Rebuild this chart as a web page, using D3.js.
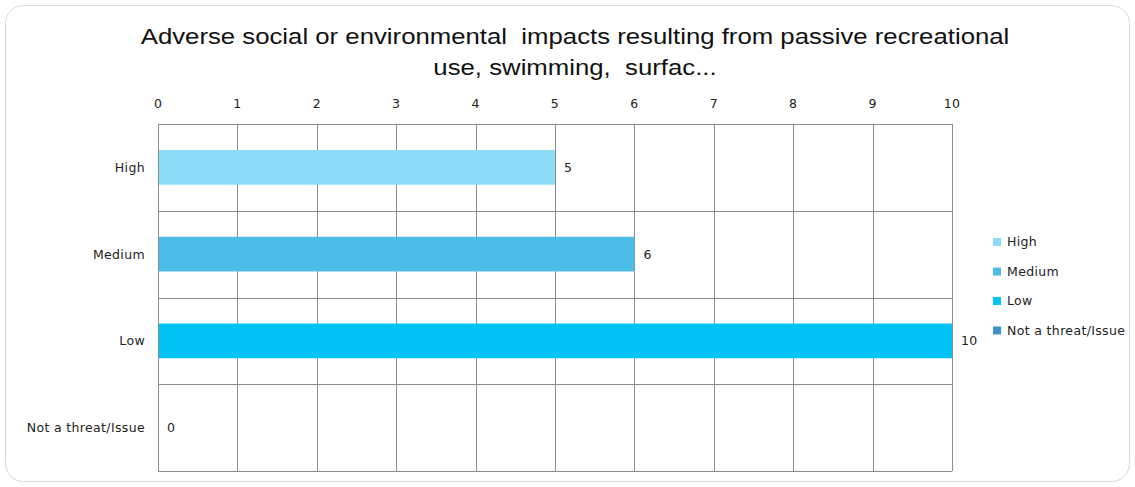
<!DOCTYPE html>
<html>
<head>
<meta charset="utf-8">
<script src="https://cdn.jsdelivr.net/npm/d3@7"></script>
<style>
    body { margin: 0; background: #fff; }
    .tick-label, .cat-label, .value-label, .legend-label { font-family: "DejaVu Sans", sans-serif; font-size: 12.5px; letter-spacing: 0.35px; fill: #222; }
    .chart-title { font-family: "Liberation Sans", Arial, sans-serif; font-size: 23px; fill: #111; }
</style>
</head>
<body>
<div id="chart"></div>
<script>
// chart data
var categories = ["High", "Medium", "Low", "Not a threat/Issue"];
var counts = [5, 6, 10, 0];
var barColors = ["#8ddcf7", "#4cbde9", "#00c3f5", "#3f8fcc"];
var xTicks = [0, 1, 2, 3, 4, 5, 6, 7, 8, 9, 10];
var titleLines = [
    "Adverse social or environmental  impacts resulting from passive recreational",
    "use, swimming,  surfac..."
];

var width = 1135, height = 487;
var margin = { top: 124, right: 183, bottom: 16, left: 158 };
var plotW = width - margin.left - margin.right,
    plotH = height - margin.top - margin.bottom;

var svg = d3.select("#chart").append("svg")
    .attr("width", width)
    .attr("height", height);

// rounded frame
svg.append("rect")
    .attr("x", 5.5).attr("y", 5.5)
    .attr("width", width - 11).attr("height", height - 11)
    .attr("rx", 18)
    .attr("fill", "none")
    .attr("stroke", "#d9d9d9");

// title (source image is a bit stretched horizontally)
var titleG = svg.append("g")
    .attr("transform", "translate(575,0) scale(1.12,1)");

titleG.selectAll(".chart-title")
    .data(titleLines)
    .enter()
    .append("text")
    .attr("class", "chart-title")
    .attr("x", 0)
    .attr("y", function(d, i) { return 44 + i * 31; })
    .attr("text-anchor", "middle")
    .attr("xml:space", "preserve")
    .style("white-space", "pre")
    .text(function(d) { return d; });

var g = svg.append("g")
    .attr("transform", "translate(" + margin.left + "," + margin.top + ")");

var x = d3.scaleLinear().domain([0, 10]).range([0, plotW]);
var y = d3.scaleBand().domain(categories).range([0, plotH]).paddingInner(0.6).paddingOuter(0.3);
var yGrid = d3.scaleBand().domain(categories).range([0, plotH]);

// vertical grid lines
g.selectAll(".vgrid")
    .data(xTicks)
    .enter()
    .append("line")
    .attr("x1", function(d) { return Math.round(x(d)) + 0.5; })
    .attr("x2", function(d) { return Math.round(x(d)) + 0.5; })
    .attr("y1", 0)
    .attr("y2", plotH)
    .attr("stroke", "#8c8c8c");

// horizontal band lines
var hLines = categories.map(function(c) { return yGrid(c); }).concat([plotH]);
g.selectAll(".hgrid")
    .data(hLines)
    .enter()
    .append("line")
    .attr("x1", 0)
    .attr("x2", plotW)
    .attr("y1", function(d) { return Math.round(d) + 0.5; })
    .attr("y2", function(d) { return Math.round(d) + 0.5; })
    .attr("stroke", "#8c8c8c");

// top tick labels
g.selectAll(".tick-label")
    .data(xTicks)
    .enter()
    .append("text")
    .attr("class", "tick-label")
    .attr("x", function(d) { return x(d); })
    .attr("y", -16)
    .attr("text-anchor", function(d) { return d === 0 ? "start" : "middle"; })
    .attr("dx", function(d) { return d === 0 ? -4 : 0; })
    .text(function(d) { return d; });

// category labels
g.selectAll(".cat-label")
    .data(categories)
    .enter()
    .append("text")
    .attr("class", "cat-label")
    .attr("x", -13)
    .attr("y", function(d) { return yGrid(d) + yGrid.bandwidth() / 2; })
    .attr("dy", "0.35em")
    .attr("text-anchor", "end")
    .text(function(d) { return d; });

// bars
g.selectAll(".bar")
    .data(categories)
    .enter()
    .append("rect")
    .attr("class", "bar")
    .attr("x", 1)
    .attr("y", function(d) { return y(d); })
    .attr("width", function(d, i) { return Math.max(0, x(counts[i]) - 1); })
    .attr("height", y.bandwidth())
    .attr("fill", function(d, i) { return barColors[i]; });

// value labels
g.selectAll(".value-label")
    .data(categories)
    .enter()
    .append("text")
    .attr("class", "value-label")
    .attr("x", function(d, i) { return x(counts[i]) + 9; })
    .attr("y", function(d) { return yGrid(d) + yGrid.bandwidth() / 2; })
    .attr("dy", "0.35em")
    .text(function(d, i) { return counts[i]; });

// legend
var legend = svg.append("g")
    .attr("transform", "translate(993,242)");

var items = legend.selectAll(".legend-item")
    .data(categories)
    .enter()
    .append("g")
    .attr("transform", function(d, i) { return "translate(0," + i * 29.5 + ")"; });

items.append("rect")
    .attr("x", 0).attr("y", -4)
    .attr("width", 8).attr("height", 8)
    .attr("fill", function(d, i) { return barColors[i]; });

items.append("text")
    .attr("class", "legend-label")
    .attr("x", 14)
    .attr("dy", "0.35em")
    .text(function(d) { return d; });
</script>
</body>
</html>
